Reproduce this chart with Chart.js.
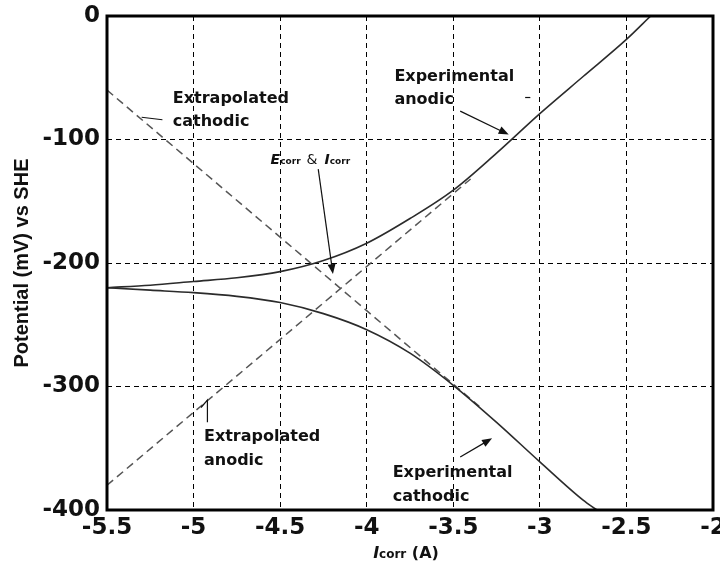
<!DOCTYPE html>
<html lang="en">
<head>
<meta charset="UTF-8">
<title>Tafel plot</title>
<script src="https://cdn.jsdelivr.net/npm/chart.js"></script>
<style>
    body { margin: 0; background: #fff; }
    #wrap { width: 720px; height: 565px; }
</style>
</head>
<body>
<div id="wrap"><canvas id="tafelChart" width="720" height="565"></canvas></div>
<script>
// log current (A) and potential (mV vs SHE)
const expAnodicI = [-5.5, -5.25, -5, -4.75, -4.5, -4.25, -4, -3.75, -3.5, -3.25, -3, -2.75, -2.5, -2.36];
const expAnodicE = [-220, -218, -215, -212, -207, -198, -184, -164, -141, -111, -79, -49, -19, 0];

const expCathodicI = [-5.5, -5.25, -5, -4.75, -4.5, -4.25, -4, -3.75, -3.5, -3.25, -3, -2.75, -2.67];
const expCathodicE = [-220, -222, -224, -227, -232, -241, -254, -273, -299, -329, -361, -392, -400];

const extAnodicI = [-5.5, -3.4];
const extAnodicE = [-380, -132];

const extCathodicI = [-5.5, -3.35];
const extCathodicE = [-60, -316];

const xTicks = [-5.5, -5, -4.5, -4, -3.5, -3, -2.5, -2];
const yTicks = [0, -100, -200, -300, -400];

const pts = (xs, ys) => xs.map((x, i) => ({ x: x, y: ys[i] }));

// text notes, placed in data units
const notes = [
    { lines: ['Extrapolated', 'cathodic'], x: -5.12, y: [-67, -86] },
    { lines: ['Experimental', 'anodic'], x: -3.84, y: [-49, -68] },
    { lines: ['Extrapolated', 'anodic'], x: -4.94, y: [-341, -360] },
    { lines: ['Experimental', 'cathodic'], x: -3.85, y: [-370, -389] }
];
const arrows = [
    { from: [-3.46, -77], to: [-3.18, -96] },
    { from: [-4.28, -124], to: [-4.195, -209] },
    { from: [-3.46, -357], to: [-3.276, -342] }
];
const leaders = [
    [[-5.30, -82], [-5.18, -84]],
    [[-4.957, -317], [-4.92, -311], [-4.92, -329]],
    [[-3.085, -66], [-3.055, -66]]
];

const solid = { borderColor: '#2b2b2b', borderWidth: 1.6, pointRadius: 0, cubicInterpolationMode: 'monotone', fill: false };
const dashed = { borderColor: '#555', borderWidth: 1.5, pointRadius: 0, borderDash: [8, 5], fill: false };

const annotate = {
    id: 'annotate',
    afterDraw(chart) {
        const ctx = chart.ctx;
        const xs = chart.scales.x, ys = chart.scales.y;
        const px = v => xs.getPixelForValue(v);
        const py = v => ys.getPixelForValue(v);
        const a = chart.chartArea;

        // frame
        ctx.save();
        ctx.strokeStyle = '#000';
        ctx.lineWidth = 3;
        ctx.strokeRect(a.left, a.top, a.right - a.left, a.bottom - a.top);

        ctx.fillStyle = '#111';
        ctx.strokeStyle = '#111';
        ctx.textBaseline = 'middle';
        ctx.textAlign = 'left';
        ctx.font = 'bold 16px "DejaVu Sans"';
        notes.forEach(n => {
            n.lines.forEach((t, i) => ctx.fillText(t, px(n.x), py(n.y[i])));
        });

        ctx.lineWidth = 1.2;
        leaders.forEach(l => {
            ctx.beginPath();
            l.forEach((p, i) => i ? ctx.lineTo(px(p[0]), py(p[1])) : ctx.moveTo(px(p[0]), py(p[1])));
            ctx.stroke();
        });

        arrows.forEach(ar => {
            const x1 = px(ar.from[0]), y1 = py(ar.from[1]);
            const x2 = px(ar.to[0]), y2 = py(ar.to[1]);
            const ang = Math.atan2(y2 - y1, x2 - x1);
            ctx.beginPath();
            ctx.moveTo(x1, y1);
            ctx.lineTo(x2 - 6 * Math.cos(ang), y2 - 6 * Math.sin(ang));
            ctx.stroke();
            ctx.beginPath();
            ctx.moveTo(x2, y2);
            ctx.lineTo(x2 - 10 * Math.cos(ang) + 4 * Math.sin(ang), y2 - 10 * Math.sin(ang) - 4 * Math.cos(ang));
            ctx.lineTo(x2 - 10 * Math.cos(ang) - 4 * Math.sin(ang), y2 - 10 * Math.sin(ang) + 4 * Math.cos(ang));
            ctx.closePath();
            ctx.fill();
        });

        // E_corr & I_corr label
        ctx.textBaseline = 'alphabetic';
        let x = px(-4.555), y = py(-120);
        ctx.font = 'italic bold 14px "DejaVu Sans"';
        ctx.fillText('E', x, y);
        x += ctx.measureText('E').width;
        ctx.font = 'bold 9px "DejaVu Sans"';
        ctx.fillText('corr', x, y);
        x += ctx.measureText('corr').width + 6;
        ctx.font = '14px "DejaVu Sans"';
        ctx.fillText('&', x, y);
        x += ctx.measureText('&').width + 7;
        ctx.font = 'italic bold 14px "DejaVu Sans"';
        ctx.fillText('I', x, y);
        x += ctx.measureText('I').width;
        ctx.font = 'bold 9px "DejaVu Sans"';
        ctx.fillText('corr', x, y);

        // x axis title: I_corr (A)
        ctx.font = 'italic bold 16px "DejaVu Sans"';
        const w1 = ctx.measureText('I').width;
        ctx.font = 'bold 12px "DejaVu Sans"';
        const w2 = ctx.measureText('corr').width;
        ctx.font = 'bold 16px "DejaVu Sans"';
        const w3 = ctx.measureText(' (A)').width;
        x = 406 - (w1 + w2 + w3) / 2;
        y = 558;
        ctx.font = 'italic bold 16px "DejaVu Sans"';
        ctx.fillText('I', x, y);
        x += w1;
        ctx.font = 'bold 12px "DejaVu Sans"';
        ctx.fillText('corr', x, y);
        x += w2;
        ctx.font = 'bold 16px "DejaVu Sans"';
        ctx.fillText(' (A)', x, y);
        ctx.restore();
    }
};

new Chart(document.getElementById('tafelChart'), {
    type: 'line',
    data: {
        datasets: [
            Object.assign({ label: 'Experimental anodic', data: pts(expAnodicI, expAnodicE) }, solid),
            Object.assign({ label: 'Experimental cathodic', data: pts(expCathodicI, expCathodicE) }, solid),
            Object.assign({ label: 'Extrapolated anodic', data: pts(extAnodicI, extAnodicE) }, dashed),
            Object.assign({ label: 'Extrapolated cathodic', data: pts(extCathodicI, extCathodicE) }, dashed)
        ]
    },
    options: {
        responsive: false,
        animation: false,
        devicePixelRatio: 1,
        layout: { padding: { top: 16, right: 7, left: 0, bottom: 0 } },
        plugins: { legend: { display: false }, tooltip: { enabled: false } },
        scales: {
            x: {
                type: 'linear',
                min: -5.5,
                max: -2,
                afterBuildTicks: s => { s.ticks = xTicks.map(v => ({ value: v })); },
                afterFit: s => { s.height = 55; s.paddingLeft = 0; s.paddingRight = 0; },
                ticks: {
                    color: '#111',
                    padding: 4,
                    maxRotation: 0,
                    font: { family: 'DejaVu Sans', weight: 'bold', size: 23 },
                    callback: v => String(v)
                },
                grid: { color: '#000', lineWidth: 1, drawTicks: false },
                border: { display: false, dash: [5, 4] }
            },
            y: {
                min: -400,
                max: 0,
                afterBuildTicks: s => { s.ticks = yTicks.map(v => ({ value: v })); },
                afterFit: s => { s.width = 107; s.paddingTop = 0; s.paddingBottom = 0; },
                ticks: {
                    color: '#111',
                    padding: 7,
                    font: { family: 'DejaVu Sans', weight: 'bold', size: 23 },
                    callback: v => String(v)
                },
                title: {
                    display: true,
                    text: 'Potential (mV) vs SHE',
                    color: '#111',
                    padding: { top: 10, bottom: 0 },
                    font: { family: 'Liberation Sans', weight: 'bold', size: 20 }
                },
                grid: { color: '#000', lineWidth: 1, drawTicks: false },
                border: { display: false, dash: [5, 4] }
            }
        }
    },
    plugins: [annotate]
});
</script>
</body>
</html>
